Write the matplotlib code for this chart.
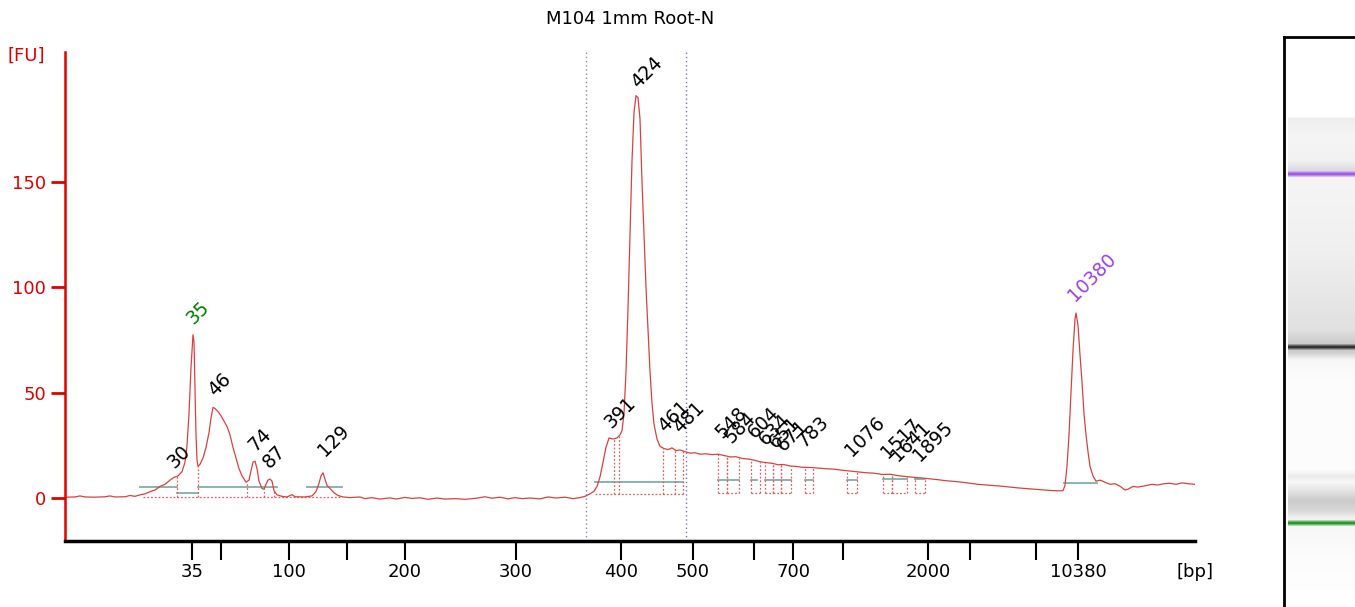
import numpy as np
from matplotlib import pyplot as plt

# electropherogram trace: migration position (x) and fluorescence (FU)
trace_x = [65, 75, 80, 85, 95, 105, 110, 115, 125, 130, 135, 140, 145, 150, 155, 160, 165, 170, 174, 178,
           182, 185, 187, 189, 191, 193, 194, 195, 196, 197, 198, 200, 203, 206, 209, 211, 213, 215, 218, 221,
           224, 227, 230, 233, 236, 239, 242, 246, 249, 251, 253, 255, 257, 259, 262, 264, 266, 268, 270, 272,
           274, 277, 282, 287, 292, 295, 305, 312, 316, 319, 321, 323, 325, 327, 330, 334, 338, 343, 350, 360,
           365, 372, 380, 390, 396, 405, 412, 420, 428, 437, 445, 455, 465, 475, 485, 492, 500, 508, 515, 522,
           530, 540, 548, 556, 565, 573, 580, 585, 590, 594, 597, 600, 603, 606, 609, 613, 617, 620, 622, 624,
           626, 628, 630, 632, 634, 636, 638, 640, 642, 644, 646, 648, 650, 652, 654, 657, 660, 664, 668, 672,
           676, 680, 685, 690, 695, 700, 706, 712, 718, 724, 730, 736, 742, 748, 754, 760, 766, 772, 778, 784,
           790, 796, 802, 810, 818, 826, 834, 842, 850, 858, 866, 874, 882, 890, 898, 906, 914, 922, 930, 938,
           946, 954, 962, 970, 978, 986, 994, 1002, 1010, 1018, 1026, 1034, 1042, 1050, 1058, 1063, 1065, 1067, 1069, 1071,
           1073, 1075, 1076, 1078, 1080, 1082, 1084, 1086, 1088, 1090, 1093, 1096, 1100, 1105, 1110, 1115, 1120, 1125, 1128, 1133,
           1138, 1145, 1152, 1158, 1164, 1170, 1176, 1182, 1188, 1195]
trace_fu = [0.4, 0.5, 1.0, 0.5, 0.4, 0.6, 1.0, 0.5, 0.6, 1.2, 0.8, 1.5, 2.0, 3.0, 3.8, 5.5, 6.5, 8.5, 9.8, 10.5,
            12.5, 17, 25, 40, 62, 77.5, 74, 52, 30, 18, 15, 16, 19, 24, 31, 38, 43, 42.5, 41, 39,
            36.5, 34, 30, 24, 19, 14, 10.5, 7.5, 8.5, 13, 17, 17.5, 14, 8, 4.5, 4.2, 6.5, 8.5, 9, 8,
            3.5, 1.5, 0.8, 0.5, 1.6, 0.6, 0.5, 1.0, 3.0, 7, 10.5, 12, 9, 6, 4.5, 2.5, 1.2, 0.5, 0.2, 0.5,
            -0.3, 0.2, -0.5, 0.1, -0.5, 0.3, -0.2, 0.1, -0.6, 0.0, -0.5, -0.3, -0.6, -0.2, 0.6, -0.1, 0.4, -0.4, 0.2, -0.3,
            0.0, -0.4, 0.5, 0.0, 0.4, -0.3, 0.2, 0.8, 2.0, 3.2, 5.5, 10, 17, 24, 28.5, 28, 28.5, 30, 32, 40,
            60, 90, 125, 160, 183, 191, 190, 180, 150, 125, 100, 80, 60, 45, 35, 28, 24.5, 23.5, 23, 23.8,
            22.5, 22.8, 22, 21.3, 21.5, 20.8, 21, 20.6, 20.8, 20.2, 19.5, 19.6, 18.8, 18.5, 18.0, 17.2, 16.8, 16.5, 15.8, 15.9,
            15.2, 15.0, 14.6, 14.5, 14.2, 13.9, 13.7, 13.2, 12.8, 12.4, 12.0, 11.8, 11.2, 11.3, 10.6, 10.2, 9.8, 9.5, 9.1, 8.7,
            8.2, 7.9, 7.5, 7.0, 6.5, 6.2, 5.9, 5.6, 5.2, 4.8, 4.5, 4.2, 3.9, 3.6, 3.4, 3.5, 6, 15, 30, 50,
            70, 85, 87.8, 82, 68, 55, 40, 30, 22, 15, 10.5, 8, 8.5, 7.5, 6.5, 6.8, 5.6, 3.8, 4.2, 5.5,
            5.2, 5.8, 6.5, 6.2, 6.8, 7.0, 6.5, 7.2, 6.8, 6.5]

# x ticks (bp labels at migration positions)
tick_x = [192, 221, 289, 347, 405, 516, 621, 693, 754, 793, 843, 928, 970, 1036, 1078]
tick_labels = ['35', '', '100', '', '200', '300', '400', '500', '', '700', '', '2000', '', '', '10380']

# peak labels: text, position, label height (FU), colour
peak_labels = ['30', '35', '46', '74', '87', '129', '391', '424', '461', '481', '548', '584', '604',
               '634', '651', '671', '783', '1076', '1517', '1641', '1895', '10380']
peak_x = [177, 196, 218, 258, 273, 328, 614, 641, 668, 683, 725, 734, 758,
          769, 779, 787, 807, 855, 891, 901, 923, 1078]
peak_y = [12.3, 80.7, 46.5, 20.4, 12.3, 18.0, 31.3, 193.0, 29.4, 29.0, 26.6, 24.2, 26.6,
          23.3, 21.8, 20.4, 22.3, 18.0, 17.0, 15.7, 15.7, 91.6]
peak_colors = ['black', 'green', 'black', 'black', 'black', 'black', 'black', 'black', 'black', 'black',
               'black', 'black', 'black', 'black', 'black', 'black', 'black', 'black', 'black', 'black',
               'black', '#9b40f0']

# dotted peak windows: boundaries and floor level
window_edges = [[177, 198, 247, 264, 274], [614, 619, 663, 675, 683]]
window_span = [(143, 340), (595, 683)]
window_floor = [0.5, 1.9]
box_starts = [718, 727, 751, 765, 773, 781, 805, 847, 883, 892, 915]
box_ends = [727, 739, 760, 773, 781, 791, 813, 857, 892, 907, 925]
box_floor = 2.4

# teal baselines: start, end, level
base_start = [140, 177, 198, 307, 595, 718, 751, 765, 805, 847, 883, 915, 1064]
base_end = [177, 198, 277, 342, 683, 739, 757, 791, 813, 857, 907, 925, 1097]
base_level = [5.4, 2.6, 5.4, 5.4, 7.6, 8.5, 8.5, 8.5, 8.5, 8.5, 9.0, 9.0, 6.9]

# region markers
marker_x = [586, 686]
marker_colors = ['#8a86b8', '#7070e0']

# gel lane bands (pixel rows of figure) and background shading
band_y = [174, 347, 523]
band_colors = [(0.61, 0.24, 0.96), (0.1, 0.1, 0.1), (0.05, 0.53, 0.05)]
shade_y = [37, 117, 118, 135, 160, 170, 178, 250, 330, 343, 352, 360, 380, 470, 476, 482, 490, 500, 510, 518, 528, 560, 607]
shade_v = [1.0, 1.0, 0.93, 0.96, 0.95, 0.86, 0.96, 0.94, 0.88, 0.8, 0.8, 0.97, 0.99, 0.99, 0.92, 0.97, 0.9, 0.8, 0.84, 0.95, 0.97, 0.99, 1.0]

red = '#e00000'
trace_red = '#d9413f'

fig = plt.figure(figsize=(13.55, 6.07), dpi=100)
ax = fig.add_axes([65 / 1355, 1 - 541 / 607, 1130 / 1355, 489 / 607])

x = np.array(trace_x)
fu = np.array(trace_fu)

for m, c in zip(marker_x, marker_colors):
    ax.axvline(m, color=c, lw=1, ls=(0, (1, 2)))

for s, e, lv in zip(base_start, base_end, base_level):
    ax.plot([s, e], [lv, lv], color='#7fb0a6', lw=1.3)

dot = dict(color='#e06060', lw=0.9, ls=(0, (1.5, 1.5)))
for edges, (s, e), fl in zip(window_edges, window_span, window_floor):
    ax.plot([s, e], [fl, fl], **dot)
    for ed in edges:
        ax.plot([ed, ed], [fl, np.interp(ed, x, fu)], **dot)
for s, e in zip(box_starts, box_ends):
    ax.plot([s, e], [box_floor, box_floor], **dot)
    ax.plot([s, s], [box_floor, np.interp(s, x, fu)], **dot)
    ax.plot([e, e], [box_floor, np.interp(e, x, fu)], **dot)

ax.plot(x, fu, color=trace_red, lw=0.9)

for t, px, py, c in zip(peak_labels, peak_x, peak_y, peak_colors):
    ax.text(px, py, t, rotation=45, rotation_mode='anchor', ha='left', va='bottom',
            fontsize=13.5, color=c)

ax.set_xlim(65, 1195)
ax.set_ylim(-20.4, 211.7)
ax.set_xticks(tick_x)
ax.set_xticklabels(tick_labels, fontsize=13)
ax.set_yticks([0, 50, 100, 150])
ax.tick_params(axis='y', colors=red, labelsize=13, length=10, width=2, direction='out')
ax.tick_params(axis='x', colors='black', length=14, width=1.5, direction='out', pad=2)
for s in ['top', 'right']:
    ax.spines[s].set_visible(False)
ax.spines['left'].set_color(red)
ax.spines['left'].set_linewidth(1.8)
ax.spines['bottom'].set_linewidth(2.5)
ax.set_title('M104 1mm Root-N', fontsize=13, pad=20)
ax.text(-0.034, 0.992, '[FU]', transform=ax.transAxes, color=red, fontsize=13, ha='center', va='center')
ax.text(1.0, -0.045, '[bp]', transform=ax.transAxes, color='black', fontsize=13, ha='center', va='top')

# gel lane
gax = fig.add_axes([1284 / 1355, 0, 71 / 1355, 570 / 607])
rows = np.arange(37, 607) + 0.5
col = np.interp(rows, shade_y, shade_v)
img = np.repeat(col[:, None, None], 3, axis=2) * np.ones((1, 1, 3))
for by, bc in zip(band_y, band_colors):
    w = np.clip(1 - np.abs(rows - by) / 3.5, 0, 1)[:, None]
    img[:, 0, :] = img[:, 0, :] * (1 - w) + np.array(bc)[None, :] * w
img[rows < 117.5] = 1.0
gax.imshow(img, aspect='auto', extent=(0.06, 1, 607, 37), interpolation='bilinear')
gax.set_xlim(0, 1)
gax.set_ylim(607, 37)
gax.set_xticks([])
gax.set_yticks([])
for s in ['right', 'bottom']:
    gax.spines[s].set_visible(False)
for s in ['left', 'top']:
    gax.spines[s].set_linewidth(2)

fig.savefig('out.png', dpi=100)
